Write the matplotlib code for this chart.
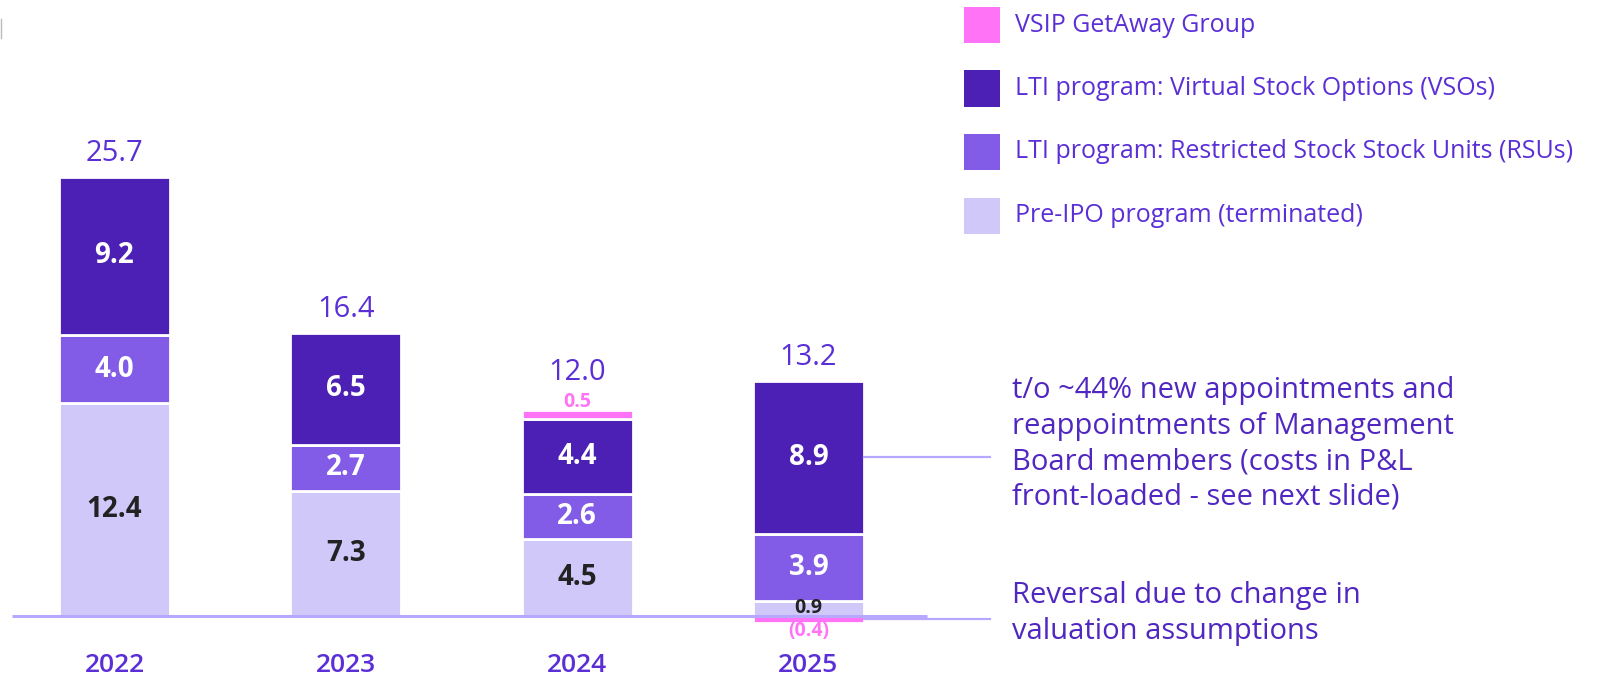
import matplotlib.pyplot as plt
from matplotlib.lines import Line2D
from matplotlib.patches import Rectangle

plt.rcParams["font.family"] = ["Open Sans", "DejaVu Sans"]

years = ["2022", "2023", "2024", "2025"]
pre_ipo = [12.4, 7.3, 4.5, 0.9]
rsu = [4.0, 2.7, 2.6, 3.9]
vso = [9.2, 6.5, 4.4, 8.9]
vsip = [0.0, 0.0, 0.5, -0.4]
totals = ["25.7", "16.4", "12.0", "13.2"]

series_names = [
    "VSIP GetAway Group",
    "LTI program: Virtual Stock Options (VSOs)",
    "LTI program: Restricted Stock Stock Units (RSUs)",
    "Pre-IPO program (terminated)",
]

note_main = ("t/o ~44% new appointments and\nreappointments of Management\n"
             "Board members (costs in P&L\nfront-loaded - see next slide)")
note_rev = "Reversal due to change in\nvaluation assumptions"

PINK = "#ff74f6"
DARK = "#4c1fb5"
MID = "#825ce6"
LIGHT = "#cfc8f9"
TEXT = "#5b2fd6"
NOTE = "#5027c0"
RULE = "#b7a7ff"

W, H = 1608, 676
fig = plt.figure(figsize=(W / 100, H / 100), dpi=100)
ax = fig.add_axes([0, 0, 1, 1])
ax.axis("off")

# pixel geometry of the plot: first bar centre, bar pitch, baseline, px per unit
x0_px, pitch_px, base_px, unit_px = 114.5, 231.33, 60, 17.15
ax.set_xlim(-x0_px / pitch_px, (W - x0_px) / pitch_px)
ax.set_ylim(-base_px / unit_px, (H - base_px) / unit_px)

x = list(range(len(years)))
width = 0.48
edge = dict(edgecolor="white", linewidth=2)

ax.bar(x, pre_ipo, width, color=LIGHT, **edge)
b1 = [p for p in pre_ipo]
ax.bar(x, rsu, width, bottom=b1, color=MID, **edge)
b2 = [a + b for a, b in zip(b1, rsu)]
ax.bar(x, vso, width, bottom=b2, color=DARK, **edge)
b3 = [a + b for a, b in zip(b2, vso)]
vsip_bottom = [b if v > 0 else 0 for b, v in zip(b3, vsip)]
ax.bar(x, vsip, width, bottom=vsip_bottom, color=PINK, **edge)

seg_font = dict(ha="center", va="center", fontsize=20, fontweight="bold")

for i in x:
    # small light segments get a smaller label
    pre_size = 20 if pre_ipo[i] > 2 else 14
    ax.text(i, pre_ipo[i] / 2, f"{pre_ipo[i]:.1f}", color="#222222",
            **{**seg_font, "fontsize": pre_size})
    ax.text(i, b1[i] + rsu[i] / 2, f"{rsu[i]:.1f}", color="white", **seg_font)
    ax.text(i, b2[i] + vso[i] / 2, f"{vso[i]:.1f}", color="white", **seg_font)

    # thin VSIP slices: label sits just outside the slice
    v = vsip[i]
    if v > 0:
        ax.annotate(f"{v:.1f}", (i, vsip_bottom[i] + v), xytext=(0, 6),
                    textcoords="offset points", ha="center", va="center",
                    fontsize=14, fontweight="bold", color=PINK)
    elif v < 0:
        ax.annotate(f"({-v:.1f})", (i, v), xytext=(0, -6),
                    textcoords="offset points", ha="center", va="center",
                    fontsize=14, fontweight="bold", color=PINK)

    top = b3[i] + max(v, 0)
    lift = 27 if v > 0 else 17
    ax.annotate(totals[i], (i, top), xytext=(0, lift), textcoords="offset points",
                ha="center", va="center", fontsize=21, color=TEXT)
    ax.text(i, -49 / unit_px, years[i], ha="center", va="center",
            fontsize=19, fontweight="semibold", color=TEXT)

# baseline
ax.plot([-102 / pitch_px, 812 / pitch_px], [0, 0], color=RULE, lw=2.2, solid_capstyle="butt")

# leader lines to the notes
x_note = (990 - x0_px) / pitch_px
ax.plot([3 + width / 2, x_note], [b2[3] + vso[3] / 2] * 2, color=RULE, lw=1.6)
ax.plot([3 + width / 2, x_note], [vsip[3] / 2] * 2, color=RULE, lw=1.6)

ax.text(1012 / W, 1 - 376 / H, note_main, transform=fig.transFigure, ha="left", va="top",
        fontsize=21, color=NOTE, linespacing=1.3)
ax.text(1012 / W, 1 - 581 / H, note_rev, transform=fig.transFigure, ha="left", va="top",
        fontsize=21, color=NOTE, linespacing=1.3)

# legend swatches
for k, (name, col) in enumerate(zip(series_names, [PINK, DARK, MID, LIGHT])):
    yc = 25 + 63.5 * k
    fig.patches.append(Rectangle((964 / W, 1 - (yc + 18) / H), 36 / W, 36 / H,
                                 transform=fig.transFigure, facecolor=col, edgecolor="none"))
    fig.text(1015 / W, 1 - yc / H, name, ha="left", va="center", fontsize=18, color=TEXT)

fig.add_artist(Line2D([0.5 / W, 0.5 / W], [1 - 19 / H, 1 - 38 / H], color="#bbbbbb", lw=1))

fig.savefig("out.png", dpi=100)
plt.close(fig)
